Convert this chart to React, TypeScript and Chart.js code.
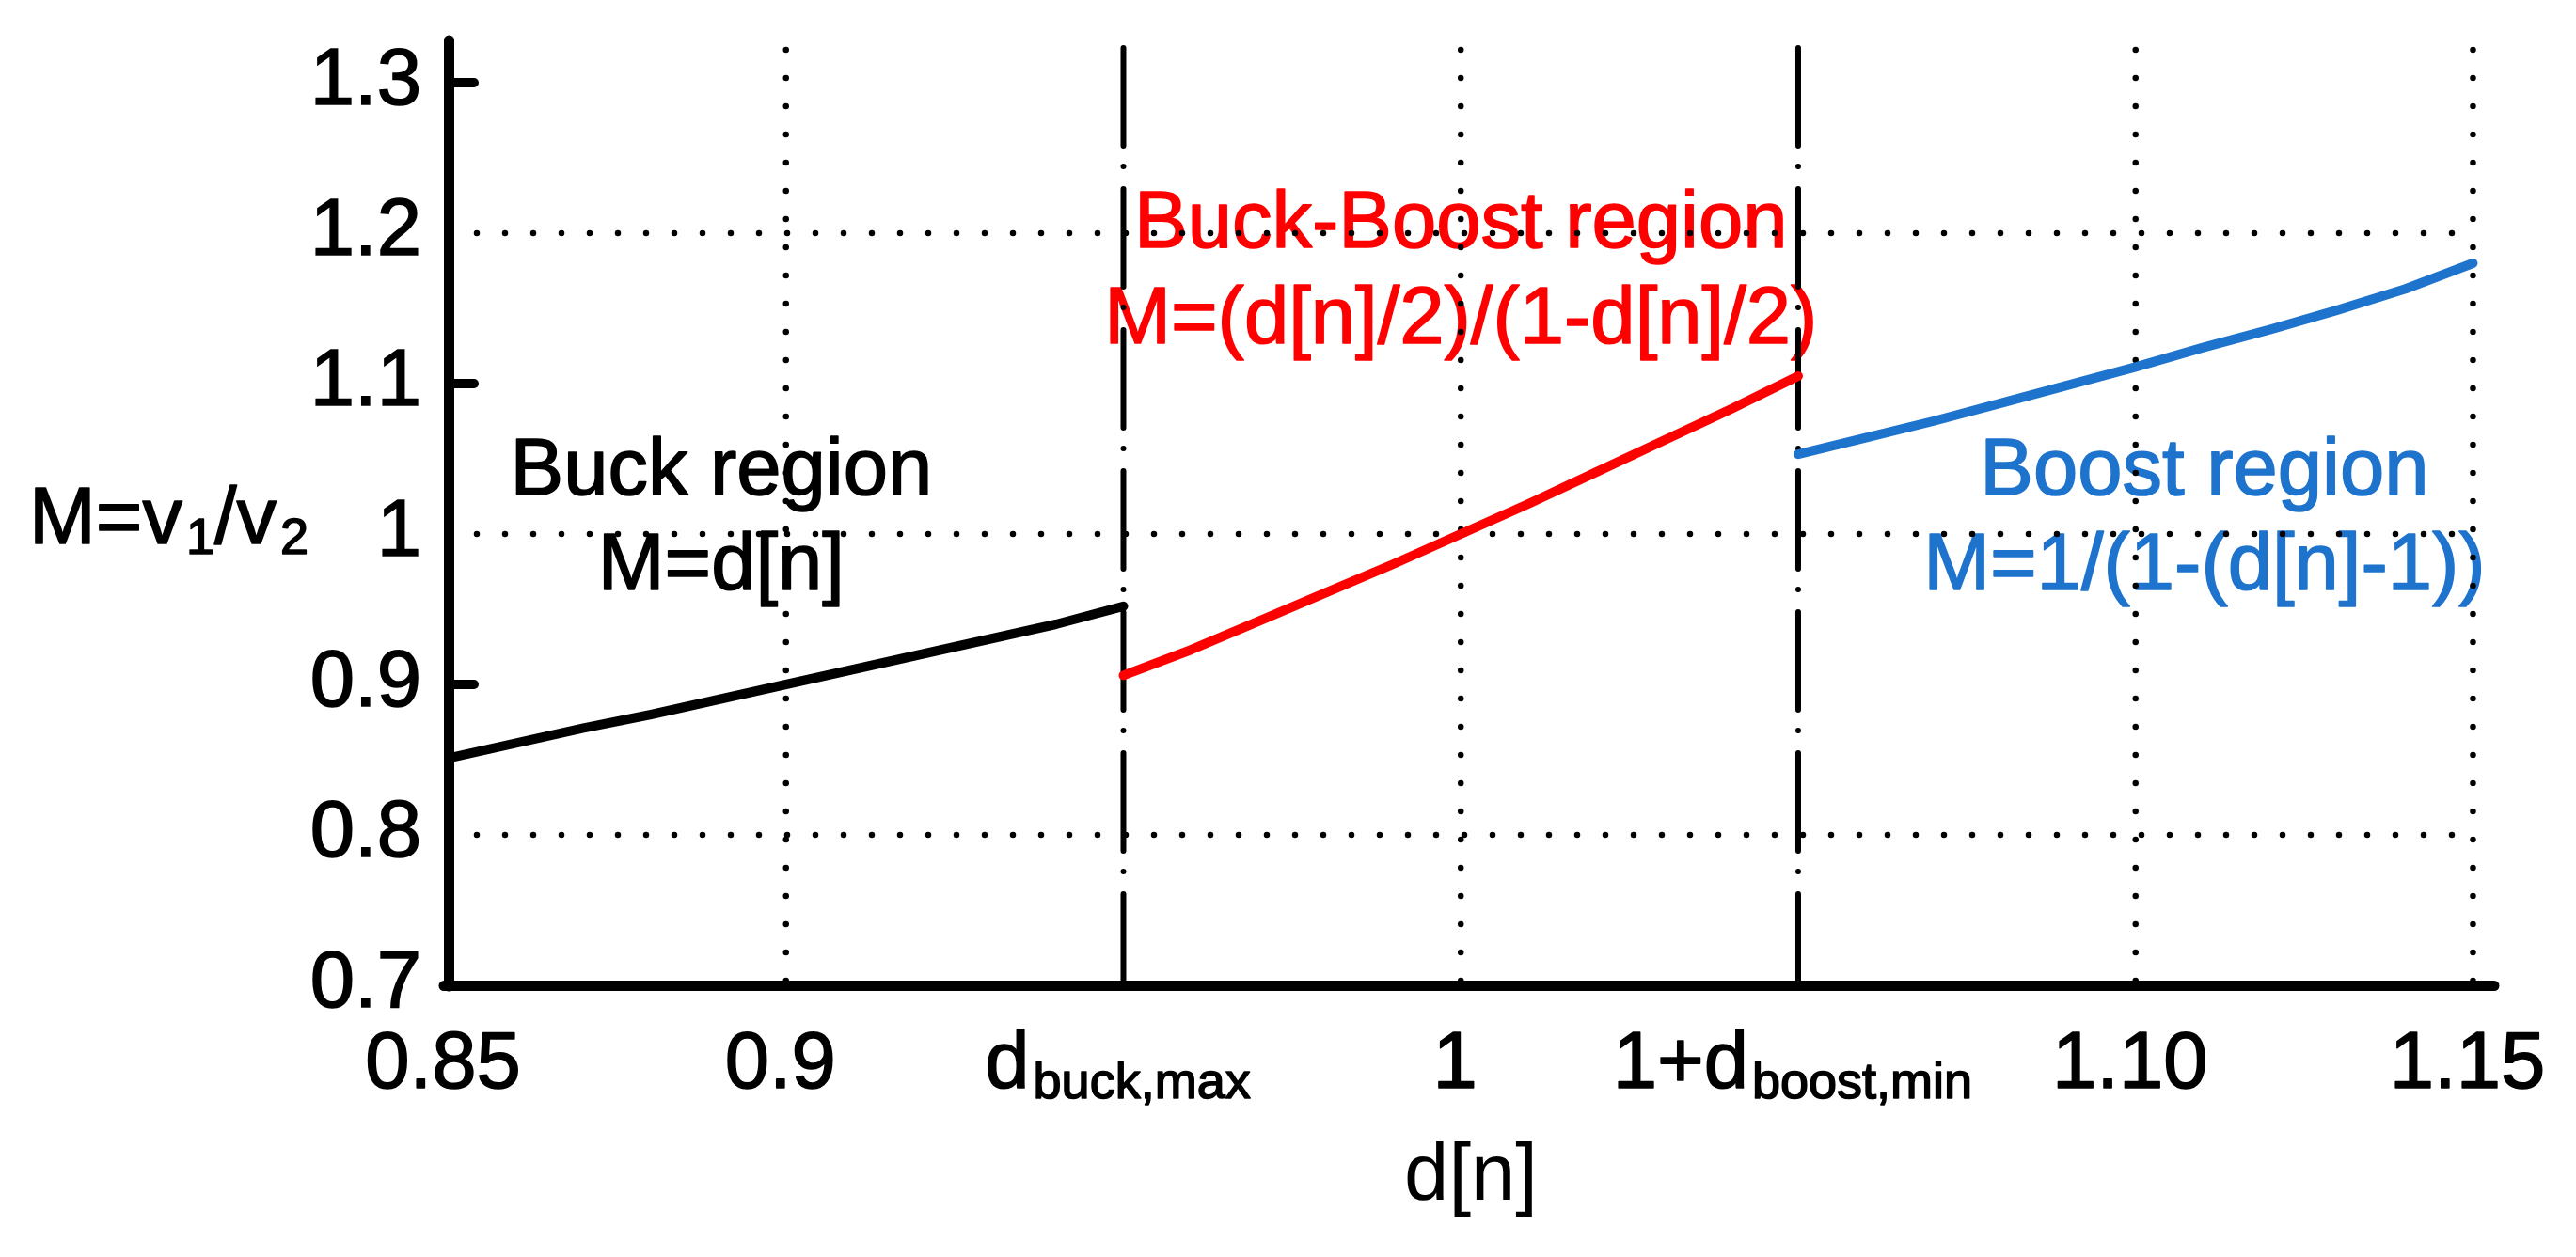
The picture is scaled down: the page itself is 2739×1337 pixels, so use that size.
import React, { useEffect, useRef } from 'react';
import { Chart, registerables } from 'chart.js';

Chart.register(...registerables);

// ---- data ----
const buckD = [0.85, 0.86, 0.87, 0.88, 0.89, 0.90, 0.91, 0.92, 0.93, 0.94, 0.95];
const buckM = [0.851, 0.861, 0.871, 0.880, 0.890, 0.900, 0.910, 0.920, 0.930, 0.940, 0.952];
const buckBoostD = [0.95, 0.96, 0.97, 0.98, 0.99, 1.00, 1.01, 1.02, 1.03, 1.04, 1.05];
const buckBoostM = [0.906, 0.923, 0.942, 0.961, 0.980, 1.000, 1.020, 1.041, 1.062, 1.083, 1.105];
const boostD = [1.05, 1.06, 1.07, 1.08, 1.09, 1.10, 1.11, 1.12, 1.13, 1.14, 1.15];
const boostM = [1.053, 1.064, 1.075, 1.087, 1.099, 1.111, 1.124, 1.136, 1.149, 1.163, 1.18];

const xTickValues = [0.85, 0.9, 0.95, 1.0, 1.05, 1.1, 1.15];
const xTickMain = ['0.85', '0.9', 'd', '1', '1+d', '1.10', '1.15'];
const xTickSub = ['', '', 'buck,max', '', 'boost,min', '', ''];
const yTickValues = [0.7, 0.8, 0.9, 1.0, 1.1, 1.2, 1.3];
const yTickLabels = ['0.7', '0.8', '0.9', '1', '1.1', '1.2', '1.3'];
const xDottedGrid = [0.9, 1.0, 1.1, 1.15];
const xDashDotGrid = [0.95, 1.05];
const yDottedGrid = [0.8, 1.0, 1.2];
const yTickMarks = [0.9, 1.1, 1.3];

const buckText = ['Buck region', 'M=d[n]'];
const buckBoostText = ['Buck-Boost region', 'M=(d[n]/2)/(1-d[n]/2)'];
const boostText = ['Boost region', 'M=1/(1-(d[n]-1))'];
const yTitleParts = [
  { t: 'M=v', sub: false },
  { t: '1', sub: true },
  { t: '/v', sub: false },
  { t: '2', sub: true },
];
const xTitle = 'd[n]';

const FONT = '"Liberation Sans", Arial, Helvetica, sans-serif';
const FS = 85;
const RED = '#ff0000';
const BLUE = '#1e73cd';

type Part = { t: string; sub: boolean };

function drawParts(ctx: CanvasRenderingContext2D, parts: Part[], x: number, y: number, size: number, color: string, align: 'left' | 'center') {
  const subSize = Math.round(size * 0.63);
  const widths = parts.map((p) => {
    ctx.font = `${p.sub ? subSize : size}px ${FONT}`;
    return ctx.measureText(p.t).width + (p.sub ? 4 : 0);
  });
  const total = widths.reduce((a, b) => a + b, 0);
  let cx = align === 'center' ? x - total / 2 : x;
  ctx.fillStyle = color;
  ctx.strokeStyle = color;
  ctx.lineWidth = 1.6;
  ctx.lineJoin = 'round';
  ctx.setLineDash([]);
  ctx.textAlign = 'left';
  ctx.textBaseline = 'alphabetic';
  parts.forEach((p, i) => {
    ctx.font = `${p.sub ? subSize : size}px ${FONT}`;
    const tx = cx + (p.sub ? 4 : 0);
    const ty = y + (p.sub ? size * 0.13 : 0);
    ctx.fillText(p.t, tx, ty);
    ctx.strokeText(p.t, tx, ty);
    cx += widths[i];
  });
}

const figurePlugin = {
  id: 'figurePlugin',
  beforeDraw(chart: any) {
    chart.ctx.lineCap = 'round';
  },
  beforeDatasetsDraw(chart: any) {
    const { ctx, chartArea, scales } = chart;
    const xs = scales.x;
    const ys = scales.y;
    ctx.save();

    // region annotations
    const block = (lines: string[], xv: number, y1: number, y2: number, color: string) => {
      drawParts(ctx, [{ t: lines[0], sub: false }], xs.getPixelForValue(xv), ys.getPixelForValue(y1), FS, color, 'center');
      drawParts(ctx, [{ t: lines[1], sub: false }], xs.getPixelForValue(xv), ys.getPixelForValue(y2), FS, color, 'center');
    };
    block(buckText, 0.8904, 1.026, 0.963, '#000');
    block(buckBoostText, 1.0, 1.1906, 1.1269, RED);
    block(boostText, 1.1102, 1.026, 0.963, BLUE);

    // y title
    drawParts(ctx, yTitleParts, 31, ys.getPixelForValue(0.994), FS, '#000', 'left');

    // x tick labels (with subscripts)
    xTickValues.forEach((v, i) => {
      const parts: Part[] = [{ t: xTickMain[i], sub: false }];
      if (xTickSub[i]) parts.push({ t: xTickSub[i], sub: true });
      drawParts(ctx, parts, xs.getPixelForValue(v) - 6, chartArea.bottom + 109, FS, '#000', 'center');
    });

    // grid
    ctx.strokeStyle = '#000';
    ctx.lineCap = 'round';
    ctx.lineWidth = 6.5;
    ctx.setLineDash([0, 30]);
    xDottedGrid.forEach((v) => {
      const px = xs.getPixelForValue(v);
      ctx.beginPath();
      ctx.moveTo(px, chartArea.top + 5);
      ctx.lineTo(px, chartArea.bottom);
      ctx.stroke();
    });
    const xEnd = xs.getPixelForValue(1.15);
    yDottedGrid.forEach((v) => {
      const py = ys.getPixelForValue(v);
      ctx.beginPath();
      ctx.moveTo(chartArea.left, py);
      ctx.lineTo(xEnd, py);
      ctx.stroke();
    });
    ctx.lineWidth = 6;
    ctx.setLineDash([104, 22, 0, 24]);
    xDashDotGrid.forEach((v) => {
      const px = xs.getPixelForValue(v);
      ctx.beginPath();
      ctx.moveTo(px, chartArea.top + 3);
      ctx.lineTo(px, chartArea.bottom);
      ctx.stroke();
    });
    ctx.setLineDash([]);
    ctx.lineWidth = 10;
    yTickMarks.forEach((v) => {
      const py = ys.getPixelForValue(v);
      ctx.beginPath();
      ctx.moveTo(chartArea.left, py);
      ctx.lineTo(chartArea.left + 27, py);
      ctx.stroke();
    });
    ctx.restore();
  },
};

export default function App() {
  const ref = useRef<HTMLCanvasElement | null>(null);
  useEffect(() => {
    if (!ref.current) return;
    const mk = (xs: number[], ys: number[]) => xs.map((x, i) => ({ x, y: ys[i] }));
    const lineDs = (label: string, data: any[], color: string) => ({
      label,
      data,
      borderColor: color,
      backgroundColor: color,
      borderWidth: 10,
      pointRadius: 0,
      tension: 0,
      borderCapStyle: 'round' as const,
      borderJoinStyle: 'round' as const,
      fill: false,
    });
    const chart = new Chart(ref.current, {
      type: 'line',
      data: {
        datasets: [
          lineDs('Buck region', mk(buckD, buckM), '#000000'),
          lineDs('Buck-Boost region', mk(buckBoostD, buckBoostM), RED),
          lineDs('Boost region', mk(boostD, boostM), BLUE),
        ],
      },
      options: {
        responsive: false,
        animation: false,
        layout: { padding: { top: 48, right: 88, left: 0, bottom: 0 } },
        plugins: { legend: { display: false }, tooltip: { enabled: false } },
        scales: {
          x: {
            type: 'linear',
            min: 0.85,
            max: 1.153,
            grid: { display: false },
            border: { display: true, color: '#000', width: 11 },
            ticks: { display: false },
            afterBuildTicks: (s: any) => {
              s.ticks = xTickValues.map((v) => ({ value: v }));
            },
            afterFit: (s: any) => {
              s.height = 289;
              s.paddingLeft = 0;
              s.paddingRight = 0;
            },
            title: {
              display: true,
              text: xTitle,
              color: '#000',
              font: { family: FONT, size: FS },
              padding: { top: 0, bottom: 33 },
            },
          },
          y: {
            type: 'linear',
            min: 0.7,
            max: 1.325,
            grid: { display: false },
            border: { display: true, color: '#000', width: 11 },
            ticks: {
              color: '#000',
              font: { family: FONT, size: FS },
              padding: 21,
              autoSkip: false,
              textStrokeColor: '#000',
              textStrokeWidth: 1.6,
              callback: (_v: any, i: number) => yTickLabels[i],
            },
            afterBuildTicks: (s: any) => {
              s.ticks = yTickValues.map((v) => ({ value: v }));
            },
            afterFit: (s: any) => {
              s.width = 477;
              s.paddingTop = 0;
              s.paddingBottom = 0;
            },
          },
        },
      },
      plugins: [figurePlugin],
    });
    return () => chart.destroy();
  }, []);
  return (
    <div style={{ position: 'fixed', left: 0, top: 0, width: 2739, height: 1337, background: '#fff' }}>
      <canvas ref={ref} width={2739} height={1337} style={{ display: 'block', width: 2739, height: 1337 }} />
    </div>
  );
}
